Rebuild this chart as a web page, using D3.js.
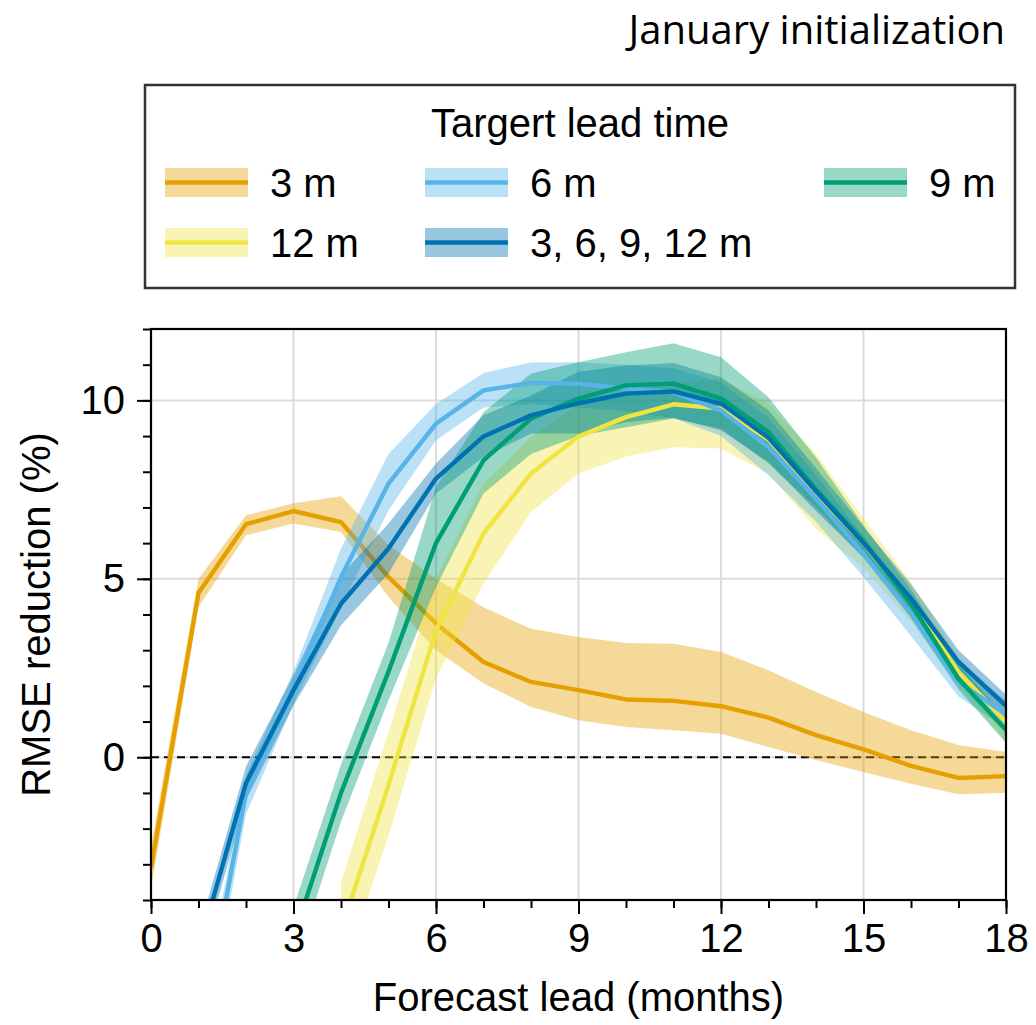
<!DOCTYPE html>
<html><head><meta charset="utf-8">
<script src="https://cdn.jsdelivr.net/npm/d3@7"></script>
<style>body{margin:0;background:#fff} svg{display:block}</style>
</head><body>
<svg id="chart" width="1036" height="1025"></svg>
<script>
// ---------------- data ----------------
const xMajorTicks = [0, 3, 6, 9, 12, 15, 18];
const xMinorTicks = d3.range(0, 19, 1);
const yMajorTicks = [0, 5, 10];
const yMinorTicks = d3.range(-4, 13, 1);
const titleText = "January initialization";
const legendTitle = "Targert lead time";
const xLabel = "Forecast lead (months)";
const yLabel = "RMSE reduction (%)";

// 3 m target (months 0..18)
const start3m = 0;
const mean3m  = [-3.1, 4.6, 6.53, 6.9, 6.59, 5.05, 3.75, 2.67, 2.11, 1.88, 1.62, 1.58, 1.43, 1.11, 0.62, 0.22, -0.24, -0.58, -0.53];
const upper3m = [-2.5, 5.0, 6.78, 7.12, 7.31, 5.95, 5.0, 4.2, 3.6, 3.37, 3.2, 3.18, 2.95, 2.44, 1.83, 1.27, 0.76, 0.34, 0.15];
const lower3m = [-3.7, 4.2, 6.22, 6.55, 6.31, 4.49, 3.0, 2.07, 1.41, 1.04, 0.85, 0.76, 0.66, 0.29, -0.08, -0.41, -0.74, -1.04, -1.0];

// 6 m target (months 1..18)
const start6m = 1;
const mean6m  = [-8.1, -1.0, 1.95, 5.05, 7.67, 9.35, 10.28, 10.49, 10.47, 10.33, 10.23, 9.72, 8.69, 7.25, 5.7, 4.02, 2.11, 1.2];
const upper6m = [-7.4, -0.5, 2.4, 5.85, 8.5, 9.9, 10.77, 11.06, 11.07, 11.0, 10.9, 10.5, 9.5, 7.9, 6.2, 4.5, 2.6, 1.6];
const lower6m = [-8.8, -1.6, 1.5, 4.2, 6.92, 8.88, 9.8, 9.9, 9.8, 9.7, 9.5, 9.0, 7.9, 6.6, 5.05, 3.4, 1.7, 0.8];

// 9 m target (months 3..18)
const start9m = 3;
const mean9m  = [-5.05, -1.0, 2.4, 6.0, 8.32, 9.49, 10.05, 10.42, 10.47, 10.05, 9.11, 7.5, 6.05, 4.3, 2.2, 0.76];
const upper9m = [-4.2, -0.2, 3.2, 7.57, 9.67, 10.75, 11.07, 11.35, 11.6, 11.21, 10.09, 8.4, 6.5, 4.7, 2.6, 1.1];
const lower9m = [-5.9, -1.8, 1.6, 4.77, 7.39, 8.5, 9.0, 9.25, 9.49, 9.21, 8.23, 7.0, 5.6, 3.9, 1.9, 0.4];

// 12 m target (months 4..18)
const start12m = 4;
const mean12m  = [-4.86, -0.78, 3.55, 6.27, 7.95, 8.99, 9.53, 9.89, 9.77, 8.9, 7.4, 6.0, 4.35, 2.39, 0.99];
const upper12m = [-3.5, 0.7, 5.0, 7.67, 8.97, 9.9, 10.2, 10.5, 10.6, 9.9, 8.5, 6.7, 4.9, 2.8, 1.3];
const lower12m = [-6.2, -2.2, 2.2, 4.86, 6.87, 7.95, 8.43, 8.69, 8.65, 7.95, 6.4, 5.3, 3.8, 2.0, 0.45];

// 3, 6, 9, 12 m combined (months 1..18)
const startAll = 1;
const meanAll  = [-5.4, -0.72, 1.88, 4.3, 5.85, 7.81, 8.99, 9.58, 9.92, 10.19, 10.25, 9.91, 8.95, 7.45, 6.0, 4.45, 2.67, 1.44];
const upperAll = [-4.9, -0.25, 2.3, 5.1, 6.55, 8.23, 9.58, 10.14, 10.8, 10.98, 11.05, 10.65, 9.72, 8.1, 6.45, 4.85, 3.0, 1.75];
const lowerAll = [-5.9, -1.2, 1.45, 3.7, 5.15, 7.39, 8.41, 9.07, 9.07, 9.39, 9.51, 9.16, 8.27, 6.9, 5.6, 4.0, 2.35, 1.1];

const seriesNames  = ["3 m", "6 m", "9 m", "12 m", "3, 6, 9, 12 m"];
const seriesColors = ["#E69F00", "#56B4E9", "#009E73", "#F0E442", "#0072B2"];

// ---------------- build ----------------
const series = [
  {name: seriesNames[0], color: seriesColors[0], start: start3m, mean: mean3m, upper: upper3m, lower: lower3m},
  {name: seriesNames[1], color: seriesColors[1], start: start6m, mean: mean6m, upper: upper6m, lower: lower6m},
  {name: seriesNames[2], color: seriesColors[2], start: start9m, mean: mean9m, upper: upper9m, lower: lower9m},
  {name: seriesNames[3], color: seriesColors[3], start: start12m, mean: mean12m, upper: upper12m, lower: lower12m},
  {name: seriesNames[4], color: seriesColors[4], start: startAll, mean: meanAll, upper: upperAll, lower: lowerAll}
].map(s => ({...s, pts: s.mean.map((m, i) => ({x: s.start + i, m, u: s.upper[i], l: s.lower[i]}))}));

const FONT = "'Liberation Sans', Arial, Helvetica, sans-serif";
const svg = d3.select("#chart");
const x = d3.scaleLinear().domain([0, 18]).range([151, 1006]);
const y = d3.scaleLinear().domain([-4, 12]).range([900, 329]);

// title
const title = svg.append("text")
  .attr("x", 1005).attr("y", 44)
  .attr("text-anchor", "end")
  .style("font-family", "'Open Sans', Lato, sans-serif")
  .style("font-size", "34px")
  .attr("fill", "#000")
  .text(titleText);
{
  const w = title.node().getComputedTextLength();
  const fs = Math.min(40, 34 * 394 / w);
  title.style("font-size", fs.toFixed(2) + "px");
}

// clip
svg.append("defs").append("clipPath").attr("id", "plotclip")
  .append("rect").attr("x", x(0)).attr("y", y(12)).attr("width", x(18) - x(0)).attr("height", y(-4) - y(12));

// grid
const grid = svg.append("g");
grid.selectAll("line.gx").data(xMajorTicks.filter(t => t > 0 && t < 18)).join("line")
  .attr("x1", d => x(d)).attr("x2", d => x(d)).attr("y1", y(12)).attr("y2", y(-4))
  .attr("stroke", "#dcdcdc").attr("stroke-width", 2);
grid.selectAll("line.gy").data(yMajorTicks).join("line")
  .attr("x1", x(0)).attr("x2", x(18)).attr("y1", d => y(d)).attr("y2", d => y(d))
  .attr("stroke", "#dcdcdc").attr("stroke-width", 2);

// zero line
svg.append("line")
  .attr("x1", x(0)).attr("x2", x(18)).attr("y1", y(0)).attr("y2", y(0))
  .attr("stroke", "#000").attr("stroke-width", 2).attr("stroke-dasharray", "8,5");

const area = d3.area().x(d => x(d.x)).y0(d => y(d.l)).y1(d => y(d.u));
const line = d3.line().x(d => x(d.x)).y(d => y(d.m));

const plot = svg.append("g").attr("clip-path", "url(#plotclip)");
// orange first: band + line (sits underneath the other bands)
plot.append("path").datum(series[0].pts).attr("d", area)
  .attr("fill", series[0].color).attr("fill-opacity", 0.4);
plot.append("path").datum(series[0].pts).attr("d", line)
  .attr("fill", "none").attr("stroke", series[0].color).attr("stroke-width", 4.4).attr("stroke-linejoin", "round");
[3, 1, 4, 2].forEach(i => {
  plot.append("path").datum(series[i].pts).attr("d", area)
    .attr("fill", series[i].color).attr("fill-opacity", 0.4);
});
[3, 1, 2, 4].forEach(i => {
  plot.append("path").datum(series[i].pts).attr("d", line)
    .attr("fill", "none").attr("stroke", series[i].color).attr("stroke-width", 4.4).attr("stroke-linejoin", "round");
});

// axes
const axes = svg.append("g").style("font-family", FONT);
const xMajor = d3.axisBottom(x).tickValues(xMajorTicks).tickSize(14).tickPadding(10).tickFormat(d3.format("d"));
const xMinor = d3.axisBottom(x).tickValues(xMinorTicks).tickSize(8).tickFormat("");
const yMajor = d3.axisLeft(y).tickValues(yMajorTicks).tickSize(14).tickPadding(12).tickFormat(d3.format("d"));
const yMinor = d3.axisLeft(y).tickValues(yMinorTicks).tickSize(8).tickFormat("");

function styleAxis(g) {
  g.select(".domain").remove();
  g.selectAll(".tick line").attr("stroke", "#000").attr("stroke-width", 2);
  g.selectAll(".tick text").style("font-size", "40px").style("font-family", FONT).attr("fill", "#000");
}
axes.append("g").attr("transform", `translate(0,${y(-4)})`).call(xMinor).call(styleAxis);
axes.append("g").attr("transform", `translate(0,${y(-4)})`).call(xMajor).call(styleAxis);
axes.append("g").attr("transform", `translate(${x(0)},0)`).call(yMinor).call(styleAxis);
axes.append("g").attr("transform", `translate(${x(0)},0)`).call(yMajor).call(styleAxis);

// frame
svg.append("rect").attr("x", x(0)).attr("y", y(12)).attr("width", x(18) - x(0)).attr("height", y(-4) - y(12))
  .attr("fill", "none").attr("stroke", "#000").attr("stroke-width", 2.2);

// axis labels
svg.append("text").attr("x", (x(0) + x(18)) / 2).attr("y", 1011).attr("text-anchor", "middle")
  .style("font-family", FONT).style("font-size", "40px").attr("fill", "#000").text(xLabel);
svg.append("text").attr("transform", `translate(50,${(y(12) + y(-4)) / 2}) rotate(-90)`).attr("text-anchor", "middle")
  .style("font-family", FONT).style("font-size", "40px").attr("fill", "#000").text(yLabel);

// legend
const lg = svg.append("g").style("font-family", FONT);
lg.append("rect").attr("x", 145).attr("y", 85).attr("width", 870).attr("height", 203)
  .attr("fill", "#fff").attr("stroke", "#333").attr("stroke-width", 2.5);
lg.append("text").attr("x", 580).attr("y", 137).attr("text-anchor", "middle")
  .style("font-size", "40px").attr("fill", "#000").text(legendTitle);

const legendItems = [
  {s: series[0], hx: 165, row: 0},
  {s: series[1], hx: 425, row: 0},
  {s: series[2], hx: 824, row: 0},
  {s: series[3], hx: 165, row: 1},
  {s: series[4], hx: 425, row: 1}
];
const rowTop = [168, 228];
legendItems.forEach(it => {
  const g = lg.append("g");
  const top = rowTop[it.row];
  g.append("rect").attr("x", it.hx).attr("y", top).attr("width", 83).attr("height", 29)
    .attr("fill", it.s.color).attr("fill-opacity", 0.4);
  g.append("line").attr("x1", it.hx).attr("x2", it.hx + 83).attr("y1", top + 14.5).attr("y2", top + 14.5)
    .attr("stroke", it.s.color).attr("stroke-width", 4.4);
  g.append("text").attr("x", it.hx + 105).attr("y", top + 29).style("font-size", "40px").attr("fill", "#000").text(it.s.name);
});
</script>
</body></html>
